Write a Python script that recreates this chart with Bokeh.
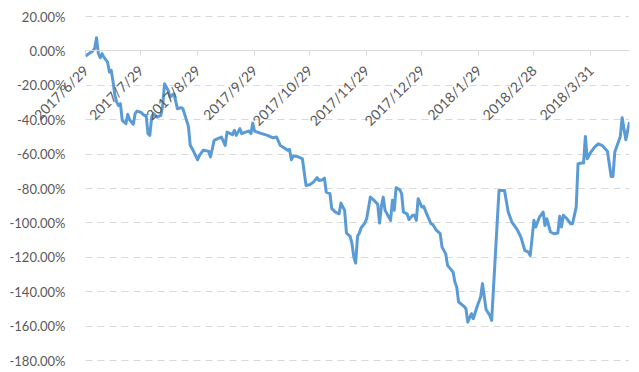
import datetime as dt
from bokeh.plotting import figure
from bokeh.models import (ColumnDataSource, Range1d, FixedTicker, NumeralTickFormatter,
                          CustomJSTickFormatter, DatetimeAxis, LinearAxis, Grid, BoxAnnotation)
from bokeh.embed import file_html
from bokeh.resources import INLINE

# ---------------- data ----------------
start_date = "2017-06-29"
day_offset = [0, 4, 5, 6, 7, 8, 9, 10, 12, 13, 14, 15, 16, 17, 18, 19, 20, 22, 23, 24,
              26, 27, 28, 30, 32, 33, 34, 35, 36, 37, 39, 41, 42, 43, 45, 46, 48, 49, 50, 52,
              53, 55, 56, 57, 59, 61, 62, 64, 67, 68, 70, 72, 74, 76, 77, 80, 81, 82, 84, 85,
              87, 89, 90, 91, 92, 95, 99, 102, 104, 106, 108, 110, 111, 112, 113, 115, 118, 120, 122, 124,
              126, 127, 129, 130, 131, 133, 134, 136, 138, 139, 141, 142, 144, 145, 146, 147, 148, 149, 150, 152,
              153, 155, 157, 159, 160, 161, 162, 163, 165, 166, 167, 168, 169, 171, 172, 173, 175, 176, 178, 179,
              180, 181, 183, 184, 186, 188, 189, 191, 193, 194, 196, 197, 200, 201, 202, 203, 206, 207, 208, 210,
              211, 213, 215, 216, 217, 218, 220, 221, 225, 228, 230, 232, 235, 237, 239, 241, 242, 244, 245, 247,
              249, 250, 251, 253, 255, 257, 258, 259, 260, 262, 264, 265, 267, 268, 270, 271, 272, 273, 275, 277,
              279, 281, 284, 286, 287, 288, 291, 292, 294, 296]
return_pct = [-3.0, 0.0, 1.5, 7.7, -1.5, -4.0, -1.6, -3.6, -6.5, -12.3, -11.3, -18.0, -25.9, -29.8, -31.7, -30.7, -40.4, -42.3, -36.9, -40.0,
              -42.7, -36.5, -35.0, -35.6, -37.5, -37.5, -48.1, -49.1, -38.5, -36.5, -38.5, -37.5, -31.7, -19.1, -23.0, -26.9, -24.9, -28.8, -33.6, -33.0,
              -33.6, -40.4, -43.9, -54.9, -58.8, -63.3, -60.8, -57.8, -58.3, -61.7, -52.0, -51.0, -50.1, -55.0, -47.2, -48.7, -46.2, -49.1, -45.2, -48.1,
              -47.2, -46.6, -48.1, -42.0, -46.6, -47.8, -49.1, -50.5, -50.1, -55.0, -56.3, -57.8, -57.3, -63.3, -61.3, -61.3, -62.7, -78.2, -77.8, -76.3,
              -73.7, -75.3, -74.9, -73.9, -82.1, -83.0, -91.7, -93.7, -94.7, -88.5, -92.7, -105.9, -107.8, -112.1, -119.9, -123.4, -107.8, -105.9, -102.8, -100.1,
              -97.6, -85.0, -86.9, -89.2, -100.1, -90.4, -85.0, -92.7, -96.6, -98.5, -86.9, -92.7, -79.5, -80.7, -83.0, -93.7, -94.7, -98.1, -95.6, -95.6,
              -98.5, -85.9, -90.8, -90.4, -95.6, -100.5, -100.9, -104.4, -106.3, -114.1, -118.0, -124.7, -128.6, -134.4, -137.3, -146.0, -148.5, -149.9, -157.7, -152.8,
              -155.7, -148.9, -143.1, -135.3, -143.1, -150.5, -153.8, -156.7, -81.1, -81.1, -93.7, -99.5, -104.0, -108.6, -116.0, -117.0, -118.9, -98.5, -102.4, -96.6,
              -93.7, -101.5, -97.6, -105.3, -106.3, -105.9, -96.2, -102.4, -95.6, -97.6, -100.5, -100.5, -90.8, -65.6, -65.2, -65.2, -49.7, -62.7, -58.8, -55.9,
              -54.0, -54.9, -58.3, -73.0, -73.0, -58.8, -49.7, -38.8, -51.6, -41.4]
tick_dates = ["2017-06-29", "2017-07-29", "2017-08-29", "2017-09-29", "2017-10-29",
              "2017-11-29", "2017-12-29", "2018-01-29", "2018-02-28", "2018-03-31"]
y_ticks_pct = [20, 0, -20, -40, -60, -80, -100, -120, -140, -160, -180]
x_end_offset = 296
y_min, y_max = -1.8, 0.2

# ---------------- layout constants ----------------
W, H = 639, 372
PLOT_LEFT_PX = 85          # where the plot area starts inside the full-size frame
RIGHT_PAD = 10
TOP_PX = 16                # where the plot area starts vertically
BOTTOM_PX = 12             # space below the plot area
FONT = "Lato"
TXT = "#595959"
GRID = "#d9d9d9"

# ---------------- build ----------------
t0 = dt.datetime.strptime(start_date, "%Y-%m-%d")
t_end = t0 + dt.timedelta(days=x_end_offset)
dates = [t0 + dt.timedelta(days=d) for d in day_offset]
ys = [v / 100.0 for v in return_pct]
src = ColumnDataSource(dict(x=dates, y=ys))
tick_dt = [dt.datetime.strptime(d, "%Y-%m-%d") for d in tick_dates]

def ms(d):
    return (d - dt.datetime(1970, 1, 1)).total_seconds() * 1000.0

frame_w = W - RIGHT_PAD
pad_days = PLOT_LEFT_PX * x_end_offset / (frame_w - PLOT_LEFT_PX)
y_per_px = (y_max - y_min) / (H - TOP_PX - BOTTOM_PX)

p = figure(width=W, height=H, output_backend="svg", toolbar_location=None,
           x_axis_type=None, y_axis_type=None,
           x_range=Range1d(t0 - dt.timedelta(days=pad_days), t_end),
           y_range=Range1d(y_min - BOTTOM_PX * y_per_px, y_max + TOP_PX * y_per_px),
           min_border_left=0, min_border_right=RIGHT_PAD, min_border_top=0, min_border_bottom=0)
p.outline_line_color = None
p.background_fill_color = "white"
p.border_fill_color = "white"

yticker = FixedTicker(ticks=[v / 100.0 for v in y_ticks_pct])

# horizontal dashed gridlines, only across the plot area
grid = Grid(dimension=1, ticker=yticker, grid_line_color=GRID,
            grid_line_dash="7 5", grid_line_width=1)
cover = None
try:
    grid.cross_bounds = (ms(t0), ms(t_end))
except Exception:
    cover = BoxAnnotation(right=ms(t0), fill_color="white", fill_alpha=1.0,
                          line_color=None, level="underlay")
p.add_layout(grid)
if cover is not None:
    p.add_layout(cover)

# y axis anchored at the start of the plot area
yaxis = LinearAxis(fixed_location=ms(t0), ticker=yticker,
                   formatter=NumeralTickFormatter(format="0.00%"))
yaxis.axis_line_color = None
yaxis.major_tick_line_color = None
yaxis.minor_tick_line_color = None
yaxis.major_label_standoff = 14
yaxis.major_label_text_font = FONT
yaxis.major_label_text_font_size = "13px"
yaxis.major_label_text_color = TXT
p.add_layout(yaxis, "left")

p.line("x", "y", source=src, line_color="#5B9BD5", line_width=3, line_join="round")

# x axis at y = 0 with rotated date labels
xaxis = DatetimeAxis(fixed_location=0)
xaxis.bounds = (ms(t0), ms(t_end))
xaxis.ticker = FixedTicker(ticks=[ms(d) for d in tick_dt])
xaxis.formatter = CustomJSTickFormatter(code="""
const d = new Date(tick);
return d.getUTCFullYear() + '/' + (d.getUTCMonth() + 1) + '/' + d.getUTCDate();
""")
xaxis.axis_line_color = GRID
xaxis.axis_line_width = 1
xaxis.major_tick_line_color = GRID
xaxis.major_tick_out = 5
xaxis.major_tick_in = 0
xaxis.minor_tick_line_color = None
xaxis.major_label_orientation = 0.785398
xaxis.major_label_standoff = 12
xaxis.major_label_text_font = FONT
xaxis.major_label_text_font_size = "14px"
xaxis.major_label_text_color = TXT
p.add_layout(xaxis, "below")

open("out.html", "w").write(file_html(p, INLINE))
